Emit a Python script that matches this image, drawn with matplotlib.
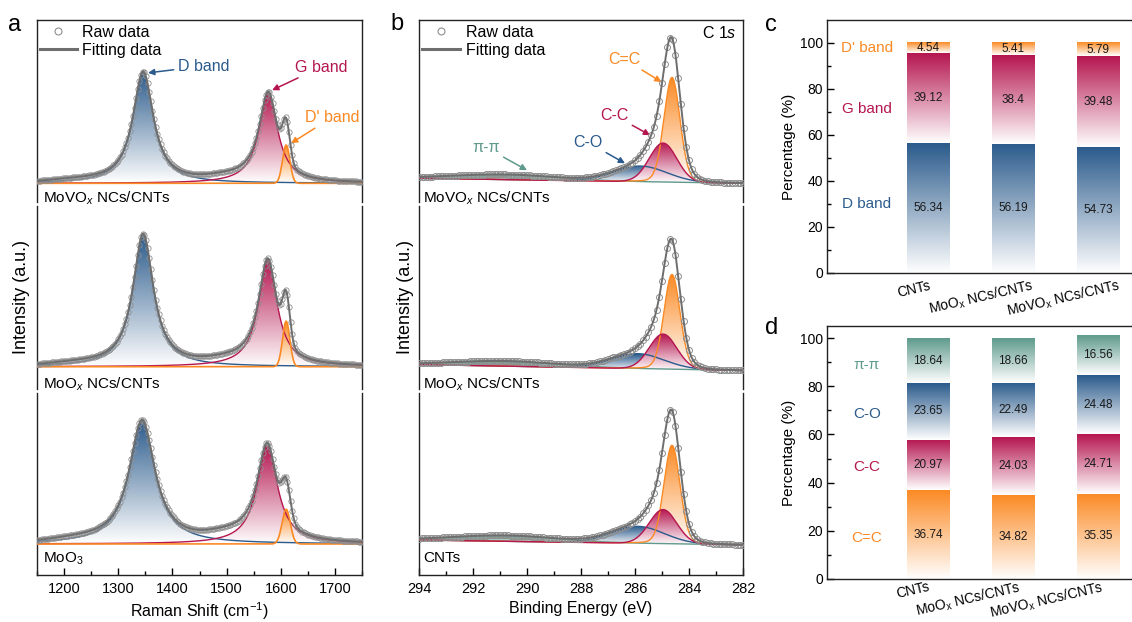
import numpy as np
import matplotlib
matplotlib.use("Agg")
import matplotlib.pyplot as plt
from matplotlib.colors import LinearSegmentedColormap
from matplotlib.lines import Line2D
from matplotlib.patches import PathPatch
from matplotlib.transforms import ScaledTranslation, blended_transform_factory

plt.rcParams["font.family"] = ["Liberation Sans", "DejaVu Sans"]
plt.rcParams["mathtext.fontset"] = "custom"
plt.rcParams["mathtext.rm"] = "Liberation Sans"
plt.rcParams["mathtext.it"] = "Liberation Sans:italic"
plt.rcParams["axes.linewidth"] = 1.0
plt.rcParams["axes.edgecolor"] = "#222222"

BLUE = "#2b5b8c"
CRIMSON = "#b5164f"
ORANGE = "#fb8a24"
TEAL = "#5f9a8c"
FIT = "#6e6e6e"
RAW = "#8e8e8e"

# ---- Raman fits (a), top to bottom; intensities in a.u. (panel height = 100)
raman_samples = ["MoVO$_x$ NCs/CNTs", "MoO$_x$ NCs/CNTs", "MoO$_3$"]
raman_base = [10.4, 12.0, 17.0]
d_pos = [1346, 1346, 1344]
d_fwhm = [46, 46, 58]
d_amp = [61.0, 72.5, 67.5]
g_pos = [1577, 1576, 1575]
g_fwhm = [42, 42, 46]
g_amp = [49.5, 58.5, 54.0]
dp_pos = [1610, 1610, 1610]
dp_fwhm = [16, 16, 18]
dp_amp = [21.0, 25.0, 19.0]
# weak bands that only show up in the envelope (~1500 and ~1220 cm-1)
d3_amp = [2.0, 2.0, 3.0]
d4_amp = [1.2, 1.2, 1.5]

# ---- C 1s fits (b), top to bottom
xps_samples = ["MoVO$_x$ NCs/CNTs", "MoO$_x$ NCs/CNTs", "CNTs"]
bg_294 = [13.2, 13.2, 19.2]
bg_282 = [10.4, 9.9, 16.5]
sp2_pos = [284.63, 284.63, 284.63]
sp2_fwhm = [0.7, 0.7, 0.7]
sp2_amp = [57.5, 52.0, 54.0]
sp3_pos = [284.96, 284.96, 284.96]
sp3_fwhm = [1.2, 1.2, 1.2]
sp3_amp = [21.4, 19.2, 18.7]
co_pos = [285.8, 285.9, 285.9]
co_fwhm = [2.3, 2.3, 2.3]
co_amp = [8.6, 8.2, 9.3]
pi_pos = [290.8, 290.8, 290.8]
pi_fwhm = [4.5, 4.5, 4.5]
pi_amp = [2.8, 2.8, 3.2]

# ---- peak area fractions (c, d)
bar_samples = ["CNTs", "MoO$_\\mathrm{x}$ NCs/CNTs", "MoVO$_\\mathrm{x}$ NCs/CNTs"]
d_band_pct = [56.34, 56.19, 54.73]
g_band_pct = [39.12, 38.4, 39.48]
dp_band_pct = [4.54, 5.41, 5.79]
cc_double_pct = [36.74, 34.82, 35.35]
cc_single_pct = [20.97, 24.03, 24.71]
co_pct = [23.65, 22.49, 24.48]
pipi_pct = [18.64, 18.66, 16.56]


def lorentz(x, c, w, a):
    return a / (1 + ((x - c) / (w / 2)) ** 2)


def gauss(x, c, w, a):
    return a * np.exp(-4 * np.log(2) * ((x - c) / w) ** 2)


def pvoigt(x, c, w, a, eta=0.12):
    return eta * lorentz(x, c, w, a) + (1 - eta) * gauss(x, c, w, a)


W, H = 1132, 622
fig = plt.figure(figsize=(W / 100, H / 100), dpi=100)


def px_axes(left, top, right, bottom):
    return fig.add_axes([left / W, 1 - bottom / H, (right - left) / W, (bottom - top) / H])


def white_to(color):
    return LinearSegmentedColormap.from_list("", ["#ffffff", color])


RAMP = np.linspace(0, 1, 256).reshape(-1, 1)


def gradient_fill(ax, x, lower, upper, color, z):
    poly = ax.fill_between(x, lower, upper, facecolor="none", edgecolor="none")
    clip = PathPatch(poly.get_paths()[0], transform=ax.transData,
                     facecolor="none", edgecolor="none")
    ax.add_patch(clip)
    img = ax.imshow(RAMP, cmap=white_to(color), aspect="auto", origin="lower",
                    extent=[x.min(), x.max(), lower.min(), upper.max()],
                    interpolation="bilinear", zorder=z)
    img.set_clip_path(clip)


ROWS = [(20, 202.3), (206.3, 388.6), (392.6, 575)]


def stack_axes(left, right, xlim, major, minor):
    axs = []
    for k, (top, bottom) in enumerate(ROWS):
        ax = px_axes(left, top, right, bottom)
        ax.set_xlim(*xlim)
        ax.set_ylim(0, 100)
        ax.set_yticks([])
        ax.spines["top"].set_visible(k == 0)
        ax.spines["bottom"].set_visible(k == 2)
        ax.set_xticks(major)
        ax.set_xticks(minor, minor=True)
        if k < 2:
            ax.tick_params(axis="x", which="both", bottom=False, labelbottom=False)
        else:
            ax.tick_params(axis="x", which="both", direction="in", labelsize=10.5, pad=5)
            ax.tick_params(axis="x", which="major", length=5, width=1)
            ax.tick_params(axis="x", which="minor", length=3, width=1)
        axs.append(ax)
    return axs


legend_handles = [
    Line2D([], [], ls="none", marker="o", mfc="none", mec=RAW, ms=5, mew=0.8),
    Line2D([], [], color=FIT, lw=2.2),
]

# ================= a: Raman =================
axes_a = stack_axes(37, 362, (1150, 1750), np.arange(1200, 1701, 100), np.arange(1150, 1751, 50))
xr = np.linspace(1150, 1750, 1201)
xr_raw = np.arange(1150, 1751, 3.0)
for i, ax in enumerate(axes_a):
    base = raman_base[i]

    def envelope(x):
        return (base + lorentz(x, d_pos[i], d_fwhm[i], d_amp[i])
                + lorentz(x, g_pos[i], g_fwhm[i], g_amp[i])
                + gauss(x, dp_pos[i], dp_fwhm[i], dp_amp[i])
                + gauss(x, 1500, 90, d3_amp[i]) + gauss(x, 1220, 120, d4_amp[i]))

    floor = np.full_like(xr, base)
    d = base + lorentz(xr, d_pos[i], d_fwhm[i], d_amp[i])
    g = base + lorentz(xr, g_pos[i], g_fwhm[i], g_amp[i])
    dp = base + gauss(xr, dp_pos[i], dp_fwhm[i], dp_amp[i])
    gradient_fill(ax, xr, floor, d, BLUE, 1)
    gradient_fill(ax, xr, floor, g, CRIMSON, 2)
    gradient_fill(ax, xr, floor, dp, ORANGE, 3)
    ax.plot(xr, d, color=BLUE, lw=1.0, zorder=4)
    ax.plot(xr, g, color=CRIMSON, lw=1.0, zorder=4)
    ax.plot(xr, dp, color=ORANGE, lw=1.2, zorder=4)
    ax.plot(xr_raw, envelope(xr_raw), ls="none", marker="o", mfc="none", mec=RAW,
            ms=3.8, mew=0.6, zorder=5)
    ax.plot(xr, envelope(xr), color=FIT, lw=1.4, zorder=6)
    ax.text(0.018, 0.0 if i < 2 else 0.07, raman_samples[i], transform=ax.transAxes,
            ha="left", va="baseline", fontsize=11, clip_on=False, zorder=7)

a1 = axes_a[0]
a1.legend(legend_handles, ["Raw data", "Fitting data"], loc="upper left",
          bbox_to_anchor=(0.009, 0.974), frameon=False, fontsize=11.5, handlelength=2.3,
          handletextpad=0.35, labelspacing=0.2, borderaxespad=0, borderpad=0)
arrow = dict(arrowstyle="-|>", lw=1.1, mutation_scale=9, shrinkA=1, shrinkB=0)
a1.annotate("D band", xy=(1355, 71), xytext=(1410, 74.7), ha="left", va="center",
            fontsize=11.5, color=BLUE, arrowprops=dict(arrow, color=BLUE))
a1.annotate("G band", xy=(1584, 61.5), xytext=(1626, 74.2), ha="left", va="center",
            fontsize=11.5, color=CRIMSON, arrowprops=dict(arrow, color=CRIMSON))
a1.annotate("D' band", xy=(1619, 32.4), xytext=(1645, 46.7), ha="left", va="center",
            fontsize=11.5, color=ORANGE, arrowprops=dict(arrow, color=ORANGE))
axes_a[2].set_xlabel("Raman Shift (cm$^{-1}$)", fontsize=11.5)
axes_a[2].xaxis.set_label_coords(0.5, -0.14)
fig.text(22 / W, 1 - 297.5 / H, "Intensity (a.u.)", rotation=90, ha="center", va="center",
         fontsize=13)

# ================= b: C 1s =================
axes_b = stack_axes(419, 743, (294, 282), np.arange(282, 295, 2), np.arange(282, 295, 1))
xb = np.linspace(282, 294, 1201)
xb_raw = np.arange(282, 294.001, 0.1)
for i, ax in enumerate(axes_b):

    def background(x):
        return bg_282[i] + (bg_294[i] - bg_282[i]) * (x - 282) / 12

    def envelope(x):
        return (background(x) + pvoigt(x, sp2_pos[i], sp2_fwhm[i], sp2_amp[i])
                + gauss(x, sp3_pos[i], sp3_fwhm[i], sp3_amp[i])
                + gauss(x, co_pos[i], co_fwhm[i], co_amp[i])
                + gauss(x, pi_pos[i], pi_fwhm[i], pi_amp[i]))

    bg = background(xb)
    pi = bg + gauss(xb, pi_pos[i], pi_fwhm[i], pi_amp[i])
    co = bg + gauss(xb, co_pos[i], co_fwhm[i], co_amp[i])
    sp2 = bg + pvoigt(xb, sp2_pos[i], sp2_fwhm[i], sp2_amp[i])
    sp3 = bg + gauss(xb, sp3_pos[i], sp3_fwhm[i], sp3_amp[i])
    gradient_fill(ax, xb, bg, pi, TEAL, 1)
    gradient_fill(ax, xb, bg, co, BLUE, 2)
    gradient_fill(ax, xb, bg, sp2, ORANGE, 3)
    gradient_fill(ax, xb, bg, sp3, CRIMSON, 3.5)
    ax.plot(xb, pi, color=TEAL, lw=1.0, zorder=4)
    ax.plot(xb, co, color=BLUE, lw=1.0, zorder=4)
    ax.plot(xb, sp2, color=ORANGE, lw=1.0, zorder=4)
    ax.plot(xb, sp3, color=CRIMSON, lw=1.0, zorder=4)
    ax.plot(xb_raw, envelope(xb_raw), ls="none", marker="o", mfc="none", mec=RAW,
            ms=4.3, mew=0.7, zorder=5)
    ax.plot(xb, envelope(xb), color=FIT, lw=1.4, zorder=6)
    ax.text(0.012, 0.0 if i < 2 else 0.07, xps_samples[i], transform=ax.transAxes,
            ha="left", va="baseline", fontsize=11, clip_on=False, zorder=7)

b1 = axes_b[0]
b1.legend(legend_handles, ["Raw data", "Fitting data"], loc="upper left",
          bbox_to_anchor=(0.009, 0.974), frameon=False, fontsize=11.5, handlelength=2.4,
          handletextpad=0.35, labelspacing=0.2, borderaxespad=0, borderpad=0)
b1.text(0.981, 0.929, "C 1$s$", transform=b1.transAxes, ha="right", va="center", fontsize=11.5)
b1.annotate("C=C", xy=(285.02, 66), xytext=(287.0, 78.6), ha="left", va="center",
            fontsize=11.5, color=ORANGE, arrowprops=dict(arrow, color=ORANGE))
b1.annotate("C-C", xy=(285.44, 36.8), xytext=(287.3, 47.8), ha="left", va="center",
            fontsize=11.5, color=CRIMSON, arrowprops=dict(arrow, color=CRIMSON))
b1.annotate("C-O", xy=(286.37, 21.4), xytext=(288.3, 33.0), ha="left", va="center",
            fontsize=11.5, color=BLUE, arrowprops=dict(arrow, color=BLUE))
b1.annotate("π-π", xy=(290.0, 17.6), xytext=(292.04, 30.2), ha="left", va="center",
            fontsize=11.5, color=TEAL, arrowprops=dict(arrow, color=TEAL))
axes_b[2].set_xlabel("Binding Energy (eV)", fontsize=11.5)
axes_b[2].xaxis.set_label_coords(0.5, -0.14)
fig.text(405 / W, 1 - 297.5 / H, "Intensity (a.u.)", rotation=90, ha="center", va="center",
         fontsize=13)


# ================= c, d: stacked percentages =================
def percent_axes(top, bottom, ymax):
    ax = px_axes(827, top, 1199, bottom)
    ax.set_xlim(-1.19, 3.19)
    ax.set_ylim(0, ymax)
    ax.set_yticks(np.arange(0, 101, 20))
    ax.set_yticks(np.arange(0, 101, 10), minor=True)
    ax.set_xticks([])
    ax.tick_params(axis="y", which="both", direction="in", labelsize=10, pad=3, width=1)
    ax.tick_params(axis="y", which="major", length=5)
    ax.tick_params(axis="y", which="minor", length=3)
    ax.set_ylabel("Percentage (%)", fontsize=11)
    ax.yaxis.set_label_coords(-0.083, 0.5)
    return ax


def gradient_stack(ax, layers, colors):
    xs = np.arange(len(bar_samples))
    bottom = np.zeros(len(xs))
    for vals, color in zip(layers, colors):
        bars = ax.bar(xs, vals, width=0.5, bottom=bottom, color="none", edgecolor="none")
        for rect, v in zip(bars, vals):
            x0, y0 = rect.get_x(), rect.get_y()
            x1, y1 = x0 + rect.get_width(), y0 + rect.get_height()
            ax.imshow(RAMP, cmap=white_to(color), aspect="auto", origin="lower",
                      extent=[x0, x1, y0, y1], interpolation="bilinear", zorder=2)
            ax.text((x0 + x1) / 2, (y0 + y1) / 2, f"{v:g}", ha="center", va="center",
                    fontsize=8.5, color="#1a1a1a", zorder=3)
        bottom = bottom + np.asarray(vals)


def sample_labels(ax, dxs, dys):
    trans = blended_transform_factory(ax.transData, ax.transAxes)
    for xi, name, dx, dy in zip(range(len(bar_samples)), bar_samples, dxs, dys):
        ax.text(xi, 0, name, rotation=13, rotation_mode="anchor", ha="right", va="top",
                fontsize=10, clip_on=False,
                transform=trans + ScaledTranslation(dx / 100, dy / 100, fig.dpi_scale_trans))


ax_c = percent_axes(20, 273, 110)
gradient_stack(ax_c, [d_band_pct, g_band_pct, dp_band_pct], [BLUE, CRIMSON, ORANGE])
for label, y, color in [("D' band", 97.8, ORANGE), ("G band", 71.3, CRIMSON), ("D band", 30, BLUE)]:
    ax_c.text(-0.72, y, label, ha="center", va="center", fontsize=11, color=color)
sample_labels(ax_c, [1, 18, 20], [-6, -4, -4])
ax_c.set_xlim(-1.19, 3.19)
ax_c.set_ylim(0, 110)

ax_d = percent_axes(326, 579, 105)
gradient_stack(ax_d, [cc_double_pct, cc_single_pct, co_pct, pipi_pct],
               [ORANGE, CRIMSON, BLUE, TEAL])
for label, y, color in [("π-π", 88.8, TEAL), ("C-O", 68.5, BLUE), ("C-C", 46.5, CRIMSON),
                        ("C=C", 17, ORANGE)]:
    ax_d.text(-0.72, y, label, ha="center", va="center", fontsize=11, color=color)
sample_labels(ax_d, [0, 5, 3], [-1, 0, 0])
ax_d.set_xlim(-1.19, 3.19)
ax_d.set_ylim(0, 105)

for letter, x, y in [("a", 8, 25), ("b", 390, 24), ("c", 765, 25), ("d", 765, 328)]:
    fig.text(x / W, 1 - y / H, letter, ha="left", va="center", fontsize=17)

fig.savefig("out.png", dpi=100)
